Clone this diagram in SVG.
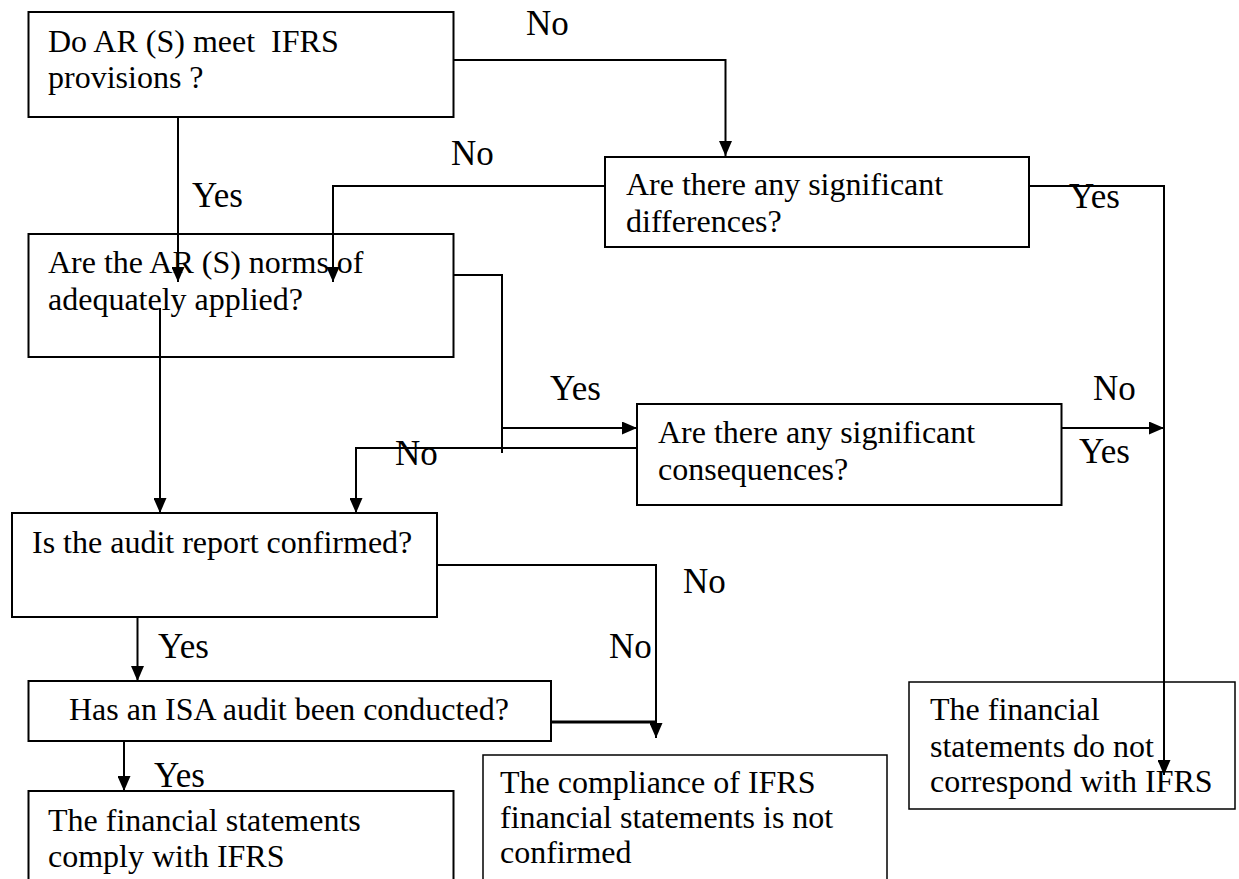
<svg xmlns="http://www.w3.org/2000/svg" width="1239" height="879" viewBox="0 0 1239 879">
<style>
  .box { fill: #fff; stroke: #000; stroke-width: 2; }
  .thin { stroke-width: 1.5; }
  .t { font-family: "Liberation Serif", "Times New Roman", serif; font-size: 32px; fill: #000; white-space: pre; }
  .lbl { font-family: "Liberation Serif", "Times New Roman", serif; font-size: 35px; fill: #000; }
  .c { fill: none; stroke: #000; stroke-width: 2; }
  .arr { marker-end: url(#ah); }
</style>
<defs>
  <marker id="ah" markerUnits="userSpaceOnUse" markerWidth="15" markerHeight="13" refX="15" refY="6.5" orient="auto">
    <path d="M0,0 L15,6.5 L0,13 z" fill="#000"/>
  </marker>
</defs>
<rect width="1239" height="879" fill="#fff"/>

<g id="n1">
  <rect class="box" x="28.5" y="12" width="425" height="105"/>
  <text class="t" x="48" y="52" xml:space="preserve">Do AR (S) meet  IFRS</text>
  <text class="t" x="48" y="88">provisions ?</text>
</g>
<g id="n3">
  <rect class="box" x="605" y="157" width="424" height="90"/>
  <text class="t" x="626" y="195">Are there any significant</text>
  <text class="t" x="626" y="232">differences?</text>
</g>
<g id="n2">
  <rect class="box" x="28.5" y="234" width="425" height="123"/>
  <text class="t" x="48" y="273">Are the AR (S) norms of</text>
  <text class="t" x="48" y="310">adequately applied?</text>
</g>
<g id="n5">
  <rect class="box" x="637" y="404" width="424.5" height="101"/>
  <text class="t" x="658" y="443">Are there any significant</text>
  <text class="t" x="658" y="480">consequences?</text>
</g>
<g id="n4">
  <rect class="box" x="12" y="513" width="425" height="104"/>
  <text class="t" x="32" y="553">Is the audit report confirmed?</text>
</g>
<g id="n6">
  <rect class="box" x="28.5" y="681" width="522.5" height="60"/>
  <text class="t" x="69" y="720">Has an ISA audit been conducted?</text>
</g>
<g id="n7">
  <rect class="box" x="28.5" y="791" width="425" height="110"/>
  <text class="t" x="48" y="831">The financial statements</text>
  <text class="t" x="48" y="867">comply with IFRS</text>
</g>
<g id="n8">
  <rect class="box thin" x="483" y="755" width="404" height="146"/>
  <text class="t" x="500" y="793">The compliance of IFRS</text>
  <text class="t" x="500" y="828">financial statements is not</text>
  <text class="t" x="500" y="863">confirmed</text>
</g>
<g id="n9">
  <rect class="box thin" x="909" y="682" width="326" height="127"/>
  <text class="t" x="930" y="720">The financial</text>
  <text class="t" x="930" y="757">statements do not</text>
  <text class="t" x="930" y="792">correspond with IFRS</text>
</g>

<g id="connectors">
  <path class="c arr" d="M178,117 V282"/>
  <path class="c arr" d="M453.5,60 H725.5 V156"/>
  <path class="c arr" d="M605,186 H333 V282"/>
  <path class="c arr" d="M1029,186 H1164 V775"/>
  <path class="c arr" d="M160,308 V513"/>
  <path class="c" d="M453.5,275 H502 V453"/>
  <path class="c arr" d="M502,428 H637"/>
  <path class="c arr" d="M637,448 H356 V513"/>
  <path class="c arr" d="M1061.5,428 H1164"/>
  <path class="c arr" d="M437,565 H656 V738"/>
  <path class="c arr" d="M137.5,617 V681"/>
  <path class="c" style="stroke-width:3" d="M551,722 H656"/>
  <path class="c arr" d="M124,741 V791"/>
  <text class="lbl" x="526" y="35">No</text>
  <text class="lbl" x="451" y="165">No</text>
  <text class="lbl" x="192" y="207">Yes</text>
  <text class="lbl" x="1069" y="208">Yes</text>
  <text class="lbl" x="550" y="400">Yes</text>
  <text class="lbl" x="395" y="465">No</text>
  <text class="lbl" x="1093" y="400">No</text>
  <text class="lbl" x="1079" y="463">Yes</text>
  <text class="lbl" x="683" y="593">No</text>
  <text class="lbl" x="609" y="658">No</text>
  <text class="lbl" x="158" y="658">Yes</text>
  <text class="lbl" x="154" y="787">Yes</text>
</g>
</svg>
